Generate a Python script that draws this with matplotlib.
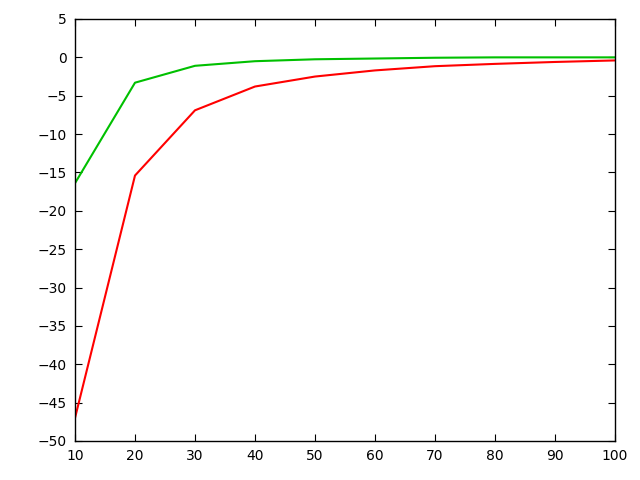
import matplotlib
matplotlib.use("Agg")
import matplotlib.pyplot as plt

x = [10, 20, 30, 40, 50, 60, 70, 80, 90, 100]
red = [-47.0, -15.4, -6.9, -3.8, -2.5, -1.7, -1.15, -0.85, -0.6, -0.4]
green = [-16.4, -3.3, -1.1, -0.5, -0.25, -0.15, -0.05, 0.0, 0.0, 0.0]
xticks = [10, 20, 30, 40, 50, 60, 70, 80, 90, 100]
yticks = [5, 0, -5, -10, -15, -20, -25, -30, -35, -40, -45, -50]

fig = plt.figure(figsize=(6.4, 4.8), dpi=100)
ax = fig.add_axes([75/640, 39/480, 540/640, 422/480])
ax.plot(x, red, color="#ff0000", lw=1.5)
ax.plot(x, green, color="#00c000", lw=1.5)
ax.set_xlim(10, 100)
ax.set_ylim(-50, 5)
ax.set_xticks(xticks)
ax.set_yticks(yticks)
ax.tick_params(direction="in", top=True, right=True, length=5, labelsize=10, pad=6)
for s in ax.spines.values():
    s.set_linewidth(1.0)
fig.savefig("out.png", dpi=100)
